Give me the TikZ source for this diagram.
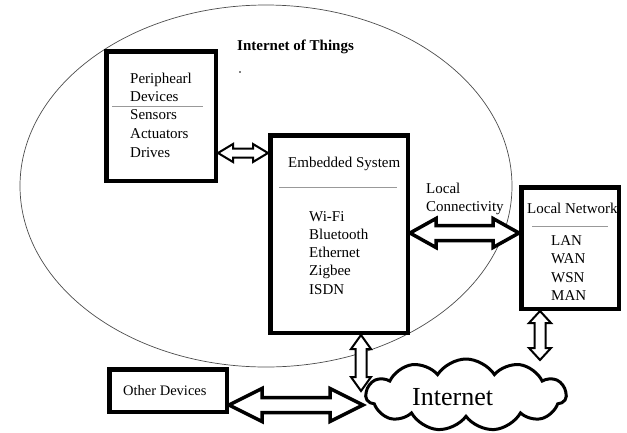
\documentclass[tikz,border=0pt]{standalone}
\usepackage{fontspec}
\setmainfont{Liberation Serif}
\usetikzlibrary{calc,shapes.symbols}
\tikzset{
  boxthick/.style={draw, line width=4.5pt, rectangle, inner sep=0pt},
  txt/.style={inner sep=0pt, anchor=base west, font=\fontsize{15}{18}\selectfont},
  divider/.style={draw=gray!80, line width=1pt},
  ring/.style={draw=black!70, line width=0.7pt},
}
% horizontal hollow double arrow: #1 left tip, #2 right tip, #3 shaft half, #4 head half, #5 head length, #6 line width
\newcommand\hdbl[6]{%
  \draw[line width=#6, line join=miter, fill=white] (#1) -- ++(#5,-#4) -- ++(0,#4-#3) -- ($(#2)+(-#5,-#3)$) -- ++(0,-#4+#3) -- (#2) -- ++(-#5,#4) -- ++(0,-#4+#3) -- ($(#1)+(#5,#3)$) -- ++(0,#4-#3) -- cycle;}
% vertical hollow double arrow: #1 top tip, #2 bottom tip
\newcommand\vdbl[6]{%
  \draw[line width=#6, line join=miter, fill=white] (#1) -- ++(-#4,#5) -- ++(#4-#3,0) -- ($(#2)+(-#3,-#5)$) -- ++(-#4+#3,0) -- (#2) -- ++(#4,-#5) -- ++(-#4+#3,0) -- ($(#1)+(#3,#5)$) -- ++(#4-#3,0) -- cycle;}
\begin{document}
\begin{tikzpicture}[x=1pt,y=-1pt]
\useasboundingbox (0,0) rectangle (627,432);
% Internet of Things boundary
\draw[ring] (266,186) ellipse [x radius=246pt, y radius=181pt];
\node[inner sep=0pt, anchor=base west, font=\bfseries\fontsize{15}{18}\selectfont] (iot) at (237,50) {Internet of Things};
\fill (240,72) circle (0.8pt);

% Peripheral devices
\node[boxthick, minimum width=109.5pt, minimum height=129.5pt] (pd) at (161,116) {};
\node[txt] (pd1) at (130,83) {Periphearl};
\node[txt] (pd2) at (130,101) {Devices};
\draw[divider] (112,106) -- (203,106);
\node[txt] (pd3) at (130,119) {Sensors};
\node[txt] (pd4) at (130,138) {Actuators};
\node[txt] (pd5) at (130,157) {Drives};

% Embedded system
\node[boxthick, minimum width=137.5pt, minimum height=197.5pt] (es) at (339,234) {};
\node[txt] (es0) at (288,167) {Embedded System};
\draw[divider] (279,187) -- (397,187);
\node[txt] (es1) at (309,221) {Wi-Fi};
\node[txt] (es2) at (309,239) {Bluetooth};
\node[txt] (es3) at (309,257) {Ethernet};
\node[txt] (es4) at (309,275.5) {Zigbee};
\node[txt] (es5) at (309,294) {ISDN};

% Local connectivity label
\node[txt] (lc1) at (426,193) {Local};
\node[txt] (lc2) at (426,211) {Connectivity};

% Local network
\node[boxthick, minimum width=97.5pt, minimum height=121.5pt] (ln) at (570,248) {};
\node[txt] (ln0) at (527,213) {Local Network};
\draw[divider] (532,226) -- (608,226);
\node[txt] (ln1) at (551,245) {LAN};
\node[txt] (ln2) at (551,263.5) {WAN};
\node[txt] (ln3) at (551,282) {WSN};
\node[txt] (ln4) at (551,300.5) {MAN};

% Other devices
\node[boxthick, minimum width=117.5pt, minimum height=42.5pt] (od) at (168,390.5) {};
\node[txt, font=\fontsize{14.5}{17}\selectfont] (od0) at (123,395) {Other Devices};

% Internet cloud
\node[cloud, draw, line width=3pt, cloud puffs=11, cloud puff arc=115, aspect=3,
      minimum width=200pt, minimum height=72pt, inner sep=0pt] (cl) at (466,395) {};
\node[inner sep=0pt, anchor=base west, font=\fontsize{26}{30}\selectfont] (inet) at (412,405) {Internet};

% connector end points
\coordinate (a1) at (pd.east |- 0,153);
\coordinate (a2) at (es.west |- 0,153);
\coordinate (b1) at (es.east |- 0,233);
\coordinate (b2) at (ln.west |- 0,233);
\coordinate (c1) at (es.south -| 361,0);
\coordinate (c2) at (361,391);
\coordinate (d1) at (ln.south -| 540,0);
\coordinate (d2) at (540,360);
\coordinate (e1) at (od.east |- 0,405);
\coordinate (e2) at (363,405);

\hdbl{a1}{a2}{4.5}{9}{15}{2pt}
\hdbl{b1}{b2}{7.5}{14.5}{26}{3.5pt}
\vdbl{c1}{c2}{5.5}{10}{14}{2pt}
\vdbl{d1}{d2}{5.5}{11}{12}{2pt}
\hdbl{e1}{e2}{7.5}{16.5}{33}{3.5pt}
\end{tikzpicture}
\end{document}
